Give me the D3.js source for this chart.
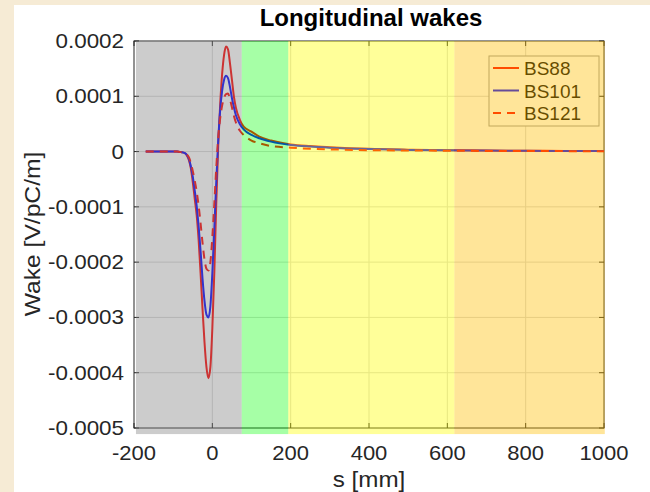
<!DOCTYPE html>
<html>
<head>
<meta charset="utf-8">
<script src="https://cdn.jsdelivr.net/npm/d3@7"></script>
<style>
  body { margin: 0; background: #f6ebd5; }
  svg { display: block; font-family: "Liberation Sans", Arial, sans-serif; }
</style>
</head>
<body>
<svg width="650" height="492"></svg>
<script>
// s positions [mm]
const sPos = [-170, -120, -90, -80, -70, -65, -60, -55, -50, -45, -40, -35, -30, -25, -20, -15, -10, -5, 0,
  5, 10, 15, 20, 25, 30, 35, 40, 45, 50, 55, 60, 70, 80, 100, 120, 150, 200, 250, 300, 400, 500, 600, 700, 800, 900, 1000]

// wake values in units of 1e-4 V/pC/m
const bs88 = [0, 0, 0, -0.01, -0.03, -0.07, -0.15, -0.3, -0.55, -0.85, -1.15, -1.6, -2.2, -2.85, -3.45, -3.9, -4.1, -3.9, -3.2,
  -2.2, -0.95, 0.1, 0.85, 1.4, 1.75, 1.9, 1.85, 1.6, 1.3, 1.0, 0.8, 0.58, 0.45, 0.36, 0.27, 0.2, 0.13, 0.1, 0.08, 0.05, 0.035, 0.025, 0.02, 0.015, 0.012, 0.01]
const bs101 = [0, 0, 0, -0.01, -0.03, -0.06, -0.13, -0.26, -0.45, -0.7, -0.98, -1.35, -1.8, -2.3, -2.7, -2.95, -3.0, -2.8, -2.2,
  -1.4, -0.55, 0.2, 0.75, 1.1, 1.3, 1.37, 1.33, 1.17, 0.97, 0.8, 0.66, 0.5, 0.4, 0.3, 0.24, 0.18, 0.12, 0.09, 0.07, 0.045, 0.03, 0.022, 0.018, 0.014, 0.011, 0.01]
const bs121 = [0, 0, 0, -0.01, -0.02, -0.05, -0.1, -0.2, -0.35, -0.52, -0.72, -0.98, -1.3, -1.65, -1.95, -2.12, -2.15, -2.0, -1.55,
  -0.95, -0.3, 0.25, 0.6, 0.83, 0.97, 1.04, 1.05, 0.95, 0.8, 0.65, 0.53, 0.38, 0.3, 0.2, 0.15, 0.1, 0.07, 0.05, 0.04, 0.025, 0.02, 0.015, 0.012, 0.01, 0.008, 0.006]

const seriesNames = ["BS88", "BS101", "BS121"]
const xTicks = [-200, 0, 200, 400, 600, 800, 1000]
const yTicks = [0.0002, 0.0001, 0, -0.0001, -0.0002, -0.0003, -0.0004, -0.0005]
const yTickLabels = ["0.0002", "0.0001", "0", "-0.0001", "-0.0002", "-0.0003", "-0.0004", "-0.0005"]

// shaded s regions
const regionStart = [-195, 75, 194, 618]
const regionEnd = [75, 194, 618, 1002]
const regionColor = ["#808080", "#00ff00", "#ffff00", "#ffbd00"]

const svg = d3.select("svg")
const W = 650, H = 492
const pLeft = 134, pRight = 604, pTop = 41, pBottom = 428
const txt = "#262626"

svg.append("rect").attr("x", 14).attr("y", 5).attr("width", W - 14).attr("height", H - 5).attr("fill", "#ffffff")

const x = d3.scaleLinear().domain([-200, 1000]).range([pLeft, pRight])
const y = d3.scaleLinear().domain([-0.0005, 0.0002]).range([pBottom, pTop])

// grid
svg.append("g").selectAll("line").data(xTicks.slice(1, -1)).join("line")
  .attr("x1", d => x(d)).attr("x2", d => x(d)).attr("y1", pTop).attr("y2", pBottom)
  .attr("stroke", "#d8d8d8").attr("stroke-width", 1)
svg.append("g").selectAll("line").data(yTicks.slice(1, -1)).join("line")
  .attr("x1", pLeft).attr("x2", pRight).attr("y1", d => y(d)).attr("y2", d => y(d))
  .attr("stroke", "#d8d8d8").attr("stroke-width", 1)

// box + inner ticks
svg.append("rect").attr("x", pLeft).attr("y", pTop).attr("width", pRight - pLeft).attr("height", pBottom - pTop)
  .attr("fill", "none").attr("stroke", txt).attr("stroke-width", 1)
const tk = 5
svg.append("g").selectAll("line").data(xTicks).join("line")
  .attr("x1", d => x(d)).attr("x2", d => x(d)).attr("y1", pBottom).attr("y2", pBottom - tk).attr("stroke", txt)
svg.append("g").selectAll("line").data(xTicks).join("line")
  .attr("x1", d => x(d)).attr("x2", d => x(d)).attr("y1", pTop).attr("y2", pTop + tk).attr("stroke", txt)
svg.append("g").selectAll("line").data(yTicks).join("line")
  .attr("x1", pLeft).attr("x2", pLeft + tk).attr("y1", d => y(d)).attr("y2", d => y(d)).attr("stroke", txt)
svg.append("g").selectAll("line").data(yTicks).join("line")
  .attr("x1", pRight).attr("x2", pRight - tk).attr("y1", d => y(d)).attr("y2", d => y(d)).attr("stroke", txt)

// curves
const line = d3.line().x(d => x(d[0])).y(d => y(d[1] * 1e-4)).curve(d3.curveMonotoneX)
const curveData = [bs88, bs101, bs121]
const curveColor = ["#ff0000", "#0000ff", "#ff0000"]
const curveDash = [null, null, "8,6"]
curveData.forEach((vals, i) => {
  svg.append("path").datum(sPos.map((s, j) => [s, vals[j]]))
    .attr("d", line).attr("fill", "none")
    .attr("stroke", curveColor[i]).attr("stroke-width", 2)
    .attr("stroke-dasharray", curveDash[i])
})

// legend
const lg = svg.append("g").attr("transform", "translate(489,56)")
lg.append("rect").attr("width", 110).attr("height", 70).attr("fill", "#ffffff").attr("stroke", "#9a9a9a")
seriesNames.forEach((n, i) => {
  const yy = 12 + i * 22.5
  lg.append("line").attr("x1", 4).attr("x2", 30).attr("y1", yy).attr("y2", yy)
    .attr("stroke", curveColor[i]).attr("stroke-width", 2).attr("stroke-dasharray", curveDash[i])
  lg.append("text").attr("x", 35).attr("y", yy + 7).attr("font-size", 19).attr("fill", "#000").text(n)
})

// shaded overlays
svg.append("g").selectAll("rect").data(regionStart).join("rect")
  .attr("x", (d, i) => x(d)).attr("width", (d, i) => x(regionEnd[i]) - x(d))
  .attr("y", y(0.0002)).attr("height", y(-0.000511) - y(0.0002))
  .attr("fill", (d, i) => regionColor[i]).attr("fill-opacity", (d, i) => i === 1 ? 0.35 : 0.4)

// tick labels
svg.append("g").selectAll("text").data(xTicks).join("text")
  .attr("transform", d => `translate(${x(d)},460) scale(1.1,1)`).attr("text-anchor", "middle")
  .attr("font-size", 20).attr("fill", txt).text(d => d)
svg.append("g").selectAll("text").data(yTicks).join("text")
  .attr("transform", d => `translate(124,${y(d) + 7}) scale(1.12,1)`).attr("text-anchor", "end")
  .attr("font-size", 20).attr("fill", txt).text((d, i) => yTickLabels[i])

// labels
svg.append("text").attr("transform", "translate(369,487) scale(1.1,1)").attr("text-anchor", "middle")
  .attr("font-size", 22).attr("fill", txt).text("s [mm]")
svg.append("text").attr("transform", "translate(40,234) rotate(-90) scale(1.12,1)").attr("text-anchor", "middle")
  .attr("font-size", 22).attr("fill", txt).text("Wake [V/pC/m]")
svg.append("text").attr("x", 371).attr("y", 26).attr("text-anchor", "middle")
  .attr("font-size", 24).attr("font-weight", "bold").attr("fill", "#000").text("Longitudinal wakes")
</script>
</body>
</html>
